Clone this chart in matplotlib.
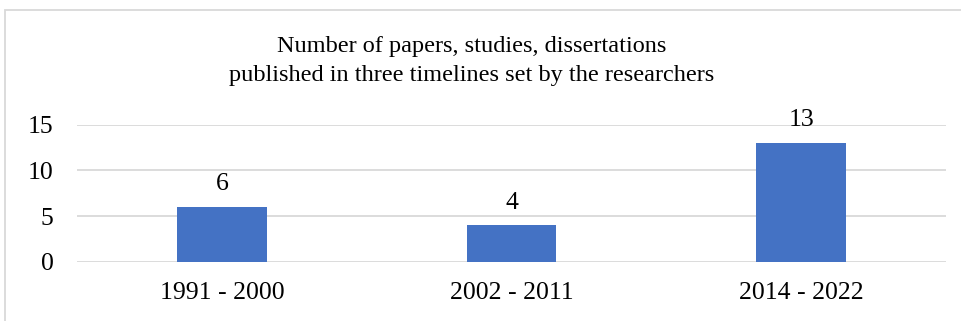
import matplotlib.pyplot as plt
from matplotlib.patches import Rectangle

periods = ["1991 - 2000", "2002 - 2011", "2014 - 2022"]
counts = [6, 4, 13]
yticks = [0, 5, 10, 15]

plt.rcParams['font.family'] = ['Liberation Serif', 'DejaVu Serif']

fig = plt.figure(figsize=(9.62, 3.21), dpi=100)
# chart frame (runs off the right and bottom edge of the crop)
fig.patches.append(Rectangle((5 / 962, -0.1), 1.0, 1 - 10 / 321 + 0.1,
                             transform=fig.transFigure, fill=False,
                             edgecolor='#d9d9d9', linewidth=1.3))

ax = fig.add_axes([77 / 962, 1 - 262 / 321, 869 / 962, 137.3 / 321])
x = range(len(periods))
ax.bar(x, counts, width=0.31, color='#4472c4', zorder=3)
for i, v in enumerate(counts):
    ax.annotate(str(v), (i, v), xytext=(0, 8.5), textcoords='offset points',
                ha='center', va='bottom', fontsize=18.5)

ax.set_xlim(-0.5, 2.5)
ax.set_ylim(0, 15)
ax.set_yticks(yticks)
ax.set_xticks(list(x))
ax.set_xticklabels(periods)
ax.tick_params(axis='both', length=0, labelsize=18.5)
ax.tick_params(axis='y', pad=17)
ax.tick_params(axis='x', pad=14.5)
ax.grid(axis='y', color='#d9d9d9', linewidth=1.3, zorder=0)
for s in ax.spines.values():
    s.set_visible(False)

fig.text(472 / 962, 1 - 61 / 321,
         "Number of papers, studies, dissertations\npublished in three timelines set by the researchers",
         ha='center', va='center', fontsize=17.5, linespacing=1.5)

fig.savefig("out.png", dpi=100)
